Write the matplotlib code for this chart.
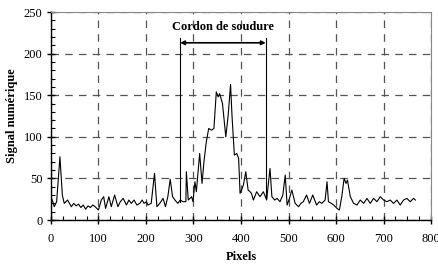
import matplotlib
matplotlib.use("Agg")
import matplotlib.pyplot as plt
from matplotlib.ticker import MultipleLocator

# signal (pixel position, numeric level)
pixels = [0, 4, 7, 12, 19, 24, 28, 35, 43, 48, 53, 58, 63, 68, 73, 78, 83, 88, 93, 100,
          106, 111, 115, 122, 127, 134, 141, 146, 152, 159, 164, 169, 175, 181, 187, 192,
          196, 201, 204, 211, 218, 223, 229, 236, 241, 246, 251, 256, 261, 267, 272, 278,
          284, 285, 289, 296, 299, 303, 306, 313, 318, 322, 327, 332, 338, 343, 348, 352,
          355, 361, 368, 373, 378, 381, 386, 391, 395, 398, 401, 405, 410, 415, 419, 422,
          426, 433, 440, 447, 454, 461, 465, 471, 476, 482, 488, 493, 497, 502, 507, 514,
          521, 526, 531, 538, 544, 551, 559, 565, 570, 577, 581, 584, 590, 595, 602, 607,
          612, 617, 621, 624, 630, 637, 644, 651, 658, 665, 672, 679, 686, 693, 700, 707,
          714, 721, 728, 735, 742, 749, 756, 763, 767]
signal = [28, 22, 16, 22, 76, 30, 20, 24, 16, 20, 17, 19, 15, 18, 13, 17, 15, 18, 16, 12,
          24, 28, 14, 28, 16, 30, 16, 22, 26, 18, 24, 20, 24, 18, 20, 24,
          20, 22, 18, 20, 56, 16, 20, 26, 16, 28, 49, 28, 24, 20, 24, 22,
          22, 58, 24, 28, 22, 46, 34, 80, 44, 70, 94, 110, 108, 110, 154, 148,
          152, 140, 100, 126, 163, 126, 78, 80, 74, 32, 36, 42, 58, 36, 34, 32,
          24, 34, 28, 34, 24, 62, 28, 24, 26, 22, 30, 54, 18, 26, 36, 20,
          16, 20, 22, 30, 20, 30, 18, 22, 20, 24, 46, 22, 20, 18, 14, 12,
          28, 50, 44, 48, 28, 20, 18, 24, 20, 26, 20, 26, 22, 28, 24, 22,
          24, 20, 24, 18, 24, 26, 22, 26, 24]

weld_start = 272
weld_end = 452
weld_label = "Cordon de soudure"

plt.rcParams['font.family'] = ['Liberation Serif', 'DejaVu Serif']

fig = plt.figure(figsize=(4.39, 2.67), dpi=100)
ax = fig.add_axes([0.116, 0.176, 0.866, 0.779])

ax.plot(pixels, signal, color='black', linewidth=0.8)

# weld zone markers
ax.plot([weld_start, weld_start], [22, 219], color='black', linewidth=0.8)
ax.plot([weld_end, weld_end], [26, 219], color='black', linewidth=0.8)
ax.annotate('', xy=(weld_start, 213), xytext=(weld_end, 213),
            arrowprops=dict(arrowstyle='<|-|>', color='black', lw=1.2,
                            mutation_scale=6, shrinkA=0, shrinkB=0))
ax.text((weld_start + weld_end) / 2, 232, weld_label, ha='center', va='center',
        fontsize=9, fontweight='bold')

ax.set_xlim(0, 800)
ax.set_ylim(0, 250)
ax.xaxis.set_major_locator(MultipleLocator(100))
ax.xaxis.set_minor_locator(MultipleLocator(25))
ax.yaxis.set_major_locator(MultipleLocator(50))
ax.yaxis.set_minor_locator(MultipleLocator(10))
ax.tick_params(which='major', direction='inout', length=6, width=1, labelsize=9, pad=3)
ax.tick_params(axis='x', which='major', pad=6)
ax.tick_params(which='minor', direction='in', length=3, width=0.8)

ax.grid(True, which='major', color='#555555', linestyle=(0, (6, 5)), linewidth=0.9)

for side in ['top', 'right']:
    ax.spines[side].set_color('#888888')
    ax.spines[side].set_linewidth(0.8)
for side in ['left', 'bottom']:
    ax.spines[side].set_linewidth(1.0)

ax.set_xlabel('Pixels', fontsize=9, fontweight='bold', labelpad=5)
ax.set_ylabel('Signal numérique', fontsize=9, fontweight='bold', labelpad=4)

fig.savefig('out.png', dpi=100)
